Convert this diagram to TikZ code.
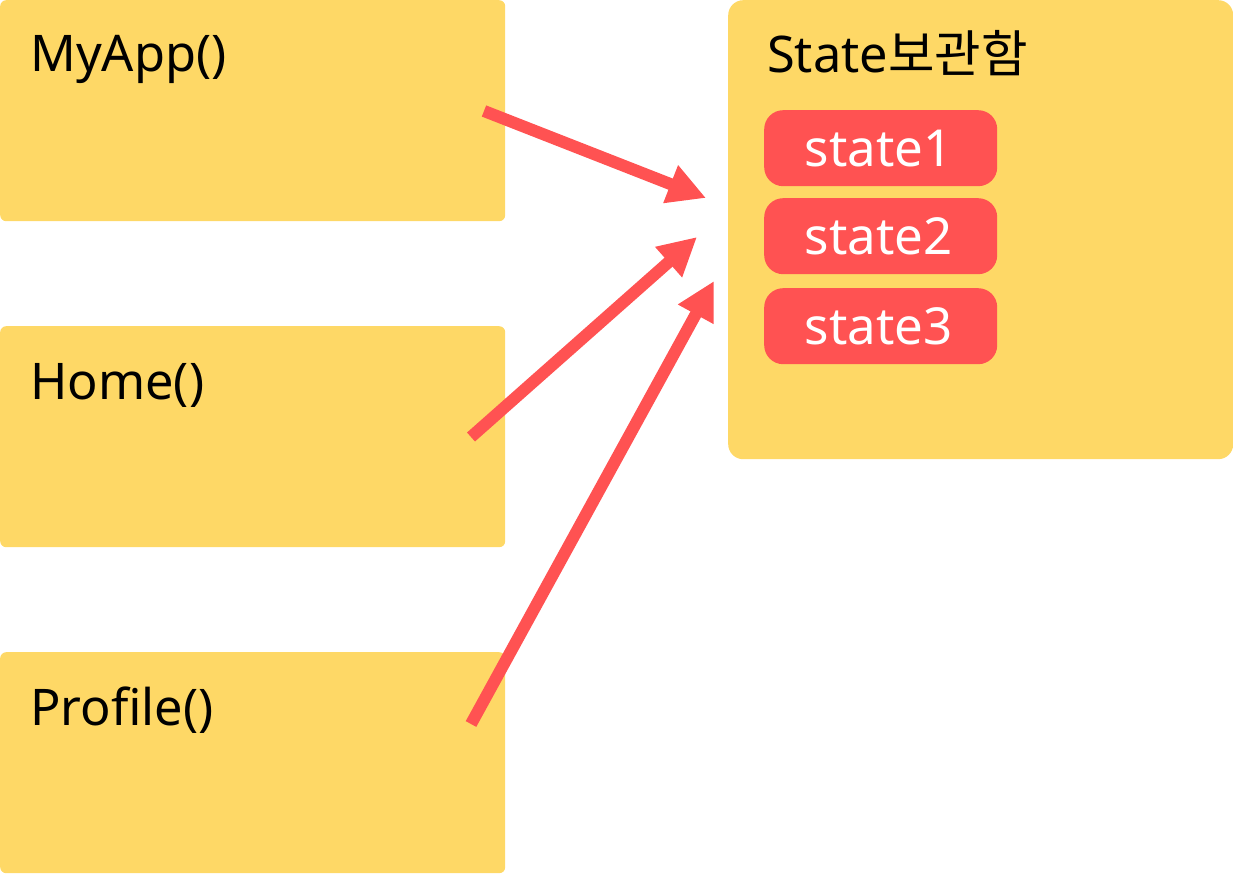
\documentclass[tikz,border=0pt]{standalone}
\usepackage{fontspec}
\setmainfont{Noto Sans}
\newfontfamily\krfont{Noto Sans CJK KR}
\usetikzlibrary{arrows.meta}
\definecolor{boxyellow}{HTML}{FED866}
\definecolor{pillred}{HTML}{FF5252}
\begin{document}
\begin{tikzpicture}[x=1pt,y=-1pt,
  comp/.style={fill=boxyellow, rounded corners=6pt, inner sep=0pt, anchor=north west},
  store/.style={fill=boxyellow, rounded corners=15pt, inner sep=0pt, anchor=north west, minimum width=505pt, minimum height=459pt},
  pill/.style={fill=pillred, rounded corners=19pt, inner sep=0pt, anchor=north west, minimum width=233pt, minimum height=76pt},
  lbl/.style={anchor=base west, inner sep=0pt, font=\fontsize{50.5}{60}\selectfont, text=black},
  storelbl/.style={anchor=base west, inner sep=0pt, font=\fontsize{50.5}{60}\selectfont, text=black},
  pilltxt/.style={inner sep=0pt, font=\fontsize{51}{60}\selectfont, text=white},
  arr/.style={draw=pillred, line width=12pt, -{Triangle[length=38pt,width=38pt]}}]
\useasboundingbox (0,0) rectangle (1233,874);
% component boxes
\node[comp, minimum width=505pt, minimum height=221pt] (myapp) at (0,0) {};
\node[comp, minimum width=505pt, minimum height=221pt] (home) at (0,326) {};
\node[comp, minimum width=505pt, minimum height=221pt] (profile) at (0,652) {};
\node[lbl] (myappt) at (30,72) {MyApp()};
\node[lbl] (homet) at (30,399) {Home()};
\node[lbl] (profilet) at (30,725) {Profile()};
% state store
\node[store] (store) at (728,0) {};
\node[storelbl] (storet) at (767,73) {State{\krfont 보관함}};
\node[pill] (s1) at (764,110) {};
\node[pill] (s2) at (764,198) {};
\node[pill] (s3) at (764,288) {};
\node[pilltxt, xshift=-2pt] at (s1.center) {state1};
\node[pilltxt, xshift=-2pt] at (s2.center) {state2};
\node[pilltxt, xshift=-2pt] at (s3.center) {state3};
% arrows
\coordinate (a1s) at (484,111);
\coordinate (a1e) at (706,198);
\coordinate (a2s) at (471,437);
\coordinate (a2e) at (697,237);
\coordinate (a3s) at (471,724);
\coordinate (a3e) at (714,281);
\draw[arr] (a1s) -- (a1e);
\draw[arr] (a2s) -- (a2e);
\draw[arr] (a3s) -- (a3e);
\end{tikzpicture}
\end{document}
